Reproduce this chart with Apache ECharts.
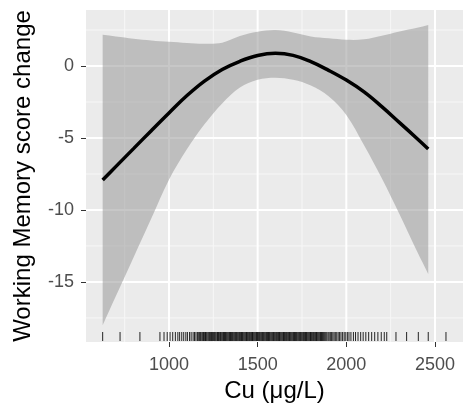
<!DOCTYPE html>
<html>
<head>
<meta charset="utf-8">
<script src="https://cdn.jsdelivr.net/npm/echarts@6/dist/echarts.min.js"></script>
<style>
  html, body { margin: 0; padding: 0; background: #fff; }
  #chart { width: 471px; height: 408px; }
</style>
</head>
<body>
<div id="chart"></div>
<script>
// axis limits and ticks
var xMin = 532, xMax = 2658;
var yMin = -19.17, yMax = 3.89;
var xTicks = [1000, 1500, 2000, 2500];
var xMinor = [750, 1250, 1750, 2250];
var yTicks = [-15, -10, -5, 0];
var yMinor = [-17.5, -12.5, -7.5, -2.5, 2.5];

// fitted curve
var fitX = [626, 700, 800, 900, 1000, 1100, 1200, 1300, 1400, 1500, 1600, 1700, 1800, 1900, 2000, 2100, 2200, 2300, 2400, 2462];
var fitY = [-7.92, -6.99, -5.74, -4.49, -3.26, -2.07, -1.05, -0.24, 0.33, 0.73, 0.88, 0.74, 0.3, -0.3, -0.98, -1.8, -2.82, -3.93, -5.05, -5.76];

// confidence band
var bandX = [626, 700, 800, 900, 1000, 1100, 1200, 1300, 1400, 1500, 1600, 1700, 1800, 1900, 2000, 2100, 2200, 2300, 2400, 2462];
var bandUpper = [2.17, 2.05, 1.9, 1.78, 1.68, 1.6, 1.55, 1.62, 2.08, 2.38, 2.5, 2.33, 2.05, 1.92, 1.82, 1.85, 2.1, 2.4, 2.65, 2.85];
var bandLower = [-18.0, -16.0, -13.3, -10.6, -7.9, -5.8, -4.05, -2.6, -1.5, -0.95, -0.81, -0.95, -1.35, -2.1, -3.4, -5.5, -7.8, -10.3, -12.9, -14.44];

// rug (observed Cu values)
var rugX = [626, 724, 836, 949, 972, 990, 1006, 1021, 1036, 1050, 1060, 1072, 1083, 1095, 1104, 1116, 1125, 1136, 1144, 1152,
  1160, 1165, 1171, 1176, 1180, 1186, 1191, 1195, 1201, 1206, 1210, 1215, 1221, 1226, 1230, 1235, 1240, 1246, 1250, 1255,
  1259, 1264, 1270, 1274, 1279, 1284, 1290, 1294, 1299, 1304, 1308, 1313, 1319, 1323, 1328, 1333, 1338, 1342, 1347, 1352,
  1357, 1361, 1366, 1371, 1376, 1380, 1385, 1390, 1395, 1399, 1404, 1409, 1414, 1418, 1423, 1428, 1433, 1437, 1442, 1447,
  1452, 1456, 1461, 1466, 1471, 1475, 1480, 1485, 1490, 1494, 1499, 1504, 1509, 1513, 1518, 1523, 1528, 1532, 1537, 1542,
  1547, 1551, 1556, 1561, 1566, 1570, 1575, 1580, 1585, 1589, 1594, 1599, 1604, 1608, 1613, 1618, 1623, 1627, 1632, 1637,
  1642, 1646, 1651, 1656, 1661, 1665, 1670, 1675, 1680, 1684, 1689, 1694, 1699, 1703, 1708, 1713, 1718, 1722, 1727, 1732,
  1737, 1741, 1746, 1751, 1756, 1760, 1765, 1770, 1775, 1779, 1784, 1789, 1794, 1798, 1803, 1808, 1813, 1817, 1822, 1827,
  1832, 1836, 1841, 1846, 1851, 1855, 1860, 1866, 1872, 1878, 1884, 1890, 1897, 1903, 1910, 1917, 1924, 1931, 1938, 1946,
  1954, 1962, 1970, 1979, 1988, 1997, 2006, 2015, 2026, 2040, 2052, 2066, 2081, 2095, 2110, 2126, 2143, 2160, 2178, 2197,
  2214, 2228, 2280, 2340, 2406, 2462, 2562];

var chart = echarts.init(document.getElementById('chart'));

function zip(a, b) {
  return a.map(function (v, i) { return [v, b[i]]; });
}

// grid lines drawn through the axis scales
function gridLines(values, vertical, width, color) {
  return {
    type: 'custom',
    silent: true,
    z: 1,
    data: values.map(function (v) { return [v]; }),
    encode: { x: 0 },
    renderItem: function (params, api) {
      var v = api.value(0);
      var a = vertical ? api.coord([v, yMin]) : api.coord([xMin, v]);
      var b = vertical ? api.coord([v, yMax]) : api.coord([xMax, v]);
      return {
        type: 'line',
        shape: { x1: a[0], y1: a[1], x2: b[0], y2: b[1] },
        style: { stroke: color, lineWidth: width }
      };
    }
  };
}

// confidence band as one polygon (corner points doubled so the ends stay square)
function bandItem(params, api) {
  var pts = [];
  var n = bandX.length;
  for (var i = 0; i < n; i++) {
    var p = api.coord([bandX[i], bandUpper[i]]);
    pts.push(p);
    if (i === 0 || i === n - 1) pts.push(p.slice());
  }
  for (var j = n - 1; j >= 0; j--) {
    var q = api.coord([bandX[j], bandLower[j]]);
    pts.push(q);
    if (j === 0 || j === n - 1) pts.push(q.slice());
  }
  return {
    type: 'polygon',
    shape: { points: pts, smooth: 0.35 },
    style: { fill: 'rgba(153,153,153,0.55)', stroke: null }
  };
}

var font = '"Liberation Sans", Arial, sans-serif';

var option = {
  animation: false,
  backgroundColor: '#ffffff',
  grid: {
    left: 86, right: 8, top: 10, bottom: 66, outerBoundsMode: 'none',
    show: true, backgroundColor: '#ebebeb', borderWidth: 0
  },
  xAxis: {
    type: 'value',
    min: xMin,
    max: xMax,
    axisLine: { show: false, onZero: false },
    axisTick: { show: true, customValues: xTicks, length: 5, lineStyle: { color: '#333333', width: 1 } },
    axisLabel: {
      customValues: xTicks, fontSize: 18, color: '#4d4d4d', margin: 14, fontFamily: font,
      formatter: function (v) { return String(v); }
    },
    splitLine: { show: false },
    name: 'Cu (\u03bcg/L)',
    nameLocation: 'middle',
    nameGap: 36,
    nameTextStyle: { fontSize: 24, color: '#000000', fontFamily: font }
  },
  yAxis: {
    type: 'value',
    min: yMin,
    max: yMax,
    axisLine: { show: false, onZero: false },
    axisTick: { show: true, customValues: yTicks, length: 5, lineStyle: { color: '#333333', width: 1 } },
    axisLabel: {
      customValues: yTicks, fontSize: 18, color: '#4d4d4d', margin: 12, fontFamily: font,
      formatter: function (v) { return String(v); }
    },
    splitLine: { show: false },
    name: 'Working Memory score change',
    nameLocation: 'middle',
    nameRotate: 90,
    nameGap: 51,
    nameTextStyle: { fontSize: 24, color: '#000000', fontFamily: font }
  },
  series: [
    gridLines(xMinor, true, 1, '#f7f7f7'),
    gridLines(yMinor, false, 1, '#f7f7f7'),
    gridLines(xTicks, true, 2, '#ffffff'),
    gridLines(yTicks, false, 2, '#ffffff'),
    {
      name: 'band',
      type: 'custom',
      z: 2,
      silent: true,
      data: [[bandX[0], bandLower[0]]],
      renderItem: bandItem
    },
    {
      name: 'fit',
      type: 'line',
      z: 3,
      data: zip(fitX, fitY),
      smooth: 0.4,
      symbol: 'none',
      lineStyle: { color: '#000000', width: 3.5 }
    },
    {
      name: 'rug',
      type: 'custom',
      z: 4,
      silent: true,
      data: rugX.map(function (v) { return [v]; }),
      encode: { x: 0 },
      renderItem: function (params, api) {
        var c = api.coord([api.value(0), yMin]);
        return {
          type: 'line',
          shape: { x1: c[0], y1: c[1] - 1, x2: c[0], y2: c[1] - 10 },
          style: { stroke: 'rgba(0,0,0,0.85)', lineWidth: 1 }
        };
      }
    }
  ]
};

chart.setOption(option);
window.onresize = chart.resize;
</script>
</body>
</html>
